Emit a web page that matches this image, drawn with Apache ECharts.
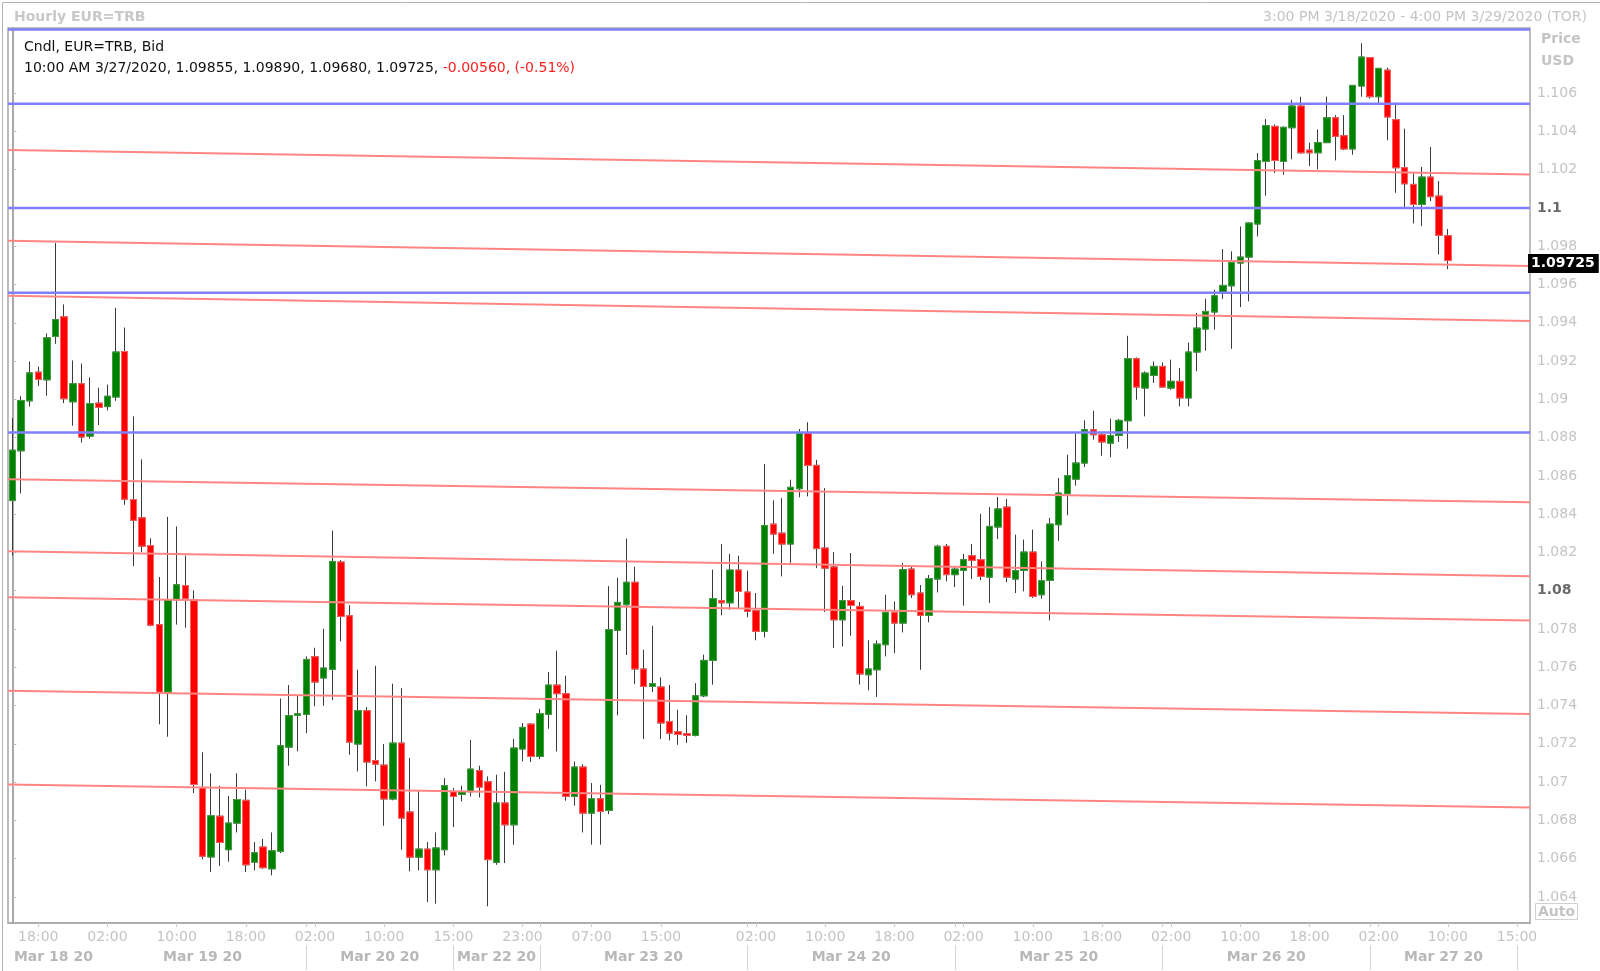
<!DOCTYPE html>
<html><head><meta charset="utf-8">
<script src="https://cdn.jsdelivr.net/npm/echarts@6/dist/echarts.min.js"></script>
<style>html,body{margin:0;padding:0;background:#fff;overflow:hidden}#c{width:1600px;height:971px}</style>
</head><body><div id="c"></div>
<script>
// trading sessions: [date key, date label, first hour, last hour]
const sessions = [
  ['03/18','Mar 18 20',15,23],
  ['03/19','Mar 19 20',0,23],
  ['03/20','Mar 20 20',0,17],
  ['03/22','Mar 22 20',15,23],
  ['03/23','Mar 23 20',0,23],
  ['03/24','Mar 24 20',0,23],
  ['03/25','Mar 25 20',0,23],
  ['03/26','Mar 26 20',0,23],
  ['03/27','Mar 27 20',0,17],
  ['03/29','',15,16]
];
const hourTicks = ['03/18 18:00','03/19 02:00','03/19 10:00','03/19 18:00','03/20 02:00','03/20 10:00',
  '03/22 15:00','03/22 23:00','03/23 07:00','03/23 15:00','03/24 02:00','03/24 10:00','03/24 18:00',
  '03/25 02:00','03/25 10:00','03/25 18:00','03/26 02:00','03/26 10:00','03/26 18:00','03/27 02:00',
  '03/27 10:00','03/29 15:00'];

const opens = [1.08471,1.08731,1.08992,1.09142,1.09102,1.09328,1.09431,1.08987,1.09081,1.08808,
1.08980,1.08962,1.09012,1.09250,1.08476,1.08381,1.08236,1.07823,1.07470,1.07953,
1.08027,1.07953,1.06970,1.06609,1.06822,1.06647,1.06786,1.06905,1.06582,1.06661,
1.06547,1.06638,1.07183,1.07349,1.07354,1.07655,1.07544,1.07589,1.08150,1.07869,
1.07199,1.07373,1.07113,1.07089,1.06912,1.07204,1.06844,1.06608,1.06650,1.06542,
1.06647,1.06950,1.06936,1.06950,1.07060,1.07002,1.06581,1.06891,1.06777,1.07173,
1.07303,1.07134,1.07354,1.07507,1.07462,1.06926,1.07079,1.06838,1.06913,1.06852,
1.07793,1.07927,1.08044,1.07591,1.07500,1.07497,1.07317,1.07263,1.07253,1.07244,
1.07451,1.07636,1.07948,1.07937,1.08108,1.07993,1.07896,1.07788,1.08348,1.08301,
1.08244,1.08533,1.08824,1.08655,1.08223,1.08124,1.07848,1.07948,1.07918,1.07561,
1.07587,1.07718,1.07887,1.07831,1.08113,1.07988,1.07871,1.08061,1.08232,1.08084,
1.08106,1.08183,1.08162,1.08071,1.08333,1.08437,1.08061,1.08106,1.08202,1.07979,
1.08054,1.08345,1.08507,1.08583,1.08667,1.08841,1.08815,1.08771,1.08812,1.08888,
1.09212,1.09059,1.09125,1.09172,1.09059,1.09094,1.09007,1.09247,1.09367,1.09456,
1.09560,1.09593,1.09712,1.09743,1.09916,1.10243,1.10426,1.10243,1.10419,1.10532,
1.10302,1.10288,1.10341,1.10471,1.10377,1.10308,1.10637,1.10785,1.10581,1.10720,
1.10461,1.10210,1.10123,1.10018,1.10161,1.10062,1.09855];
const closes = [1.08734,1.08994,1.09138,1.09104,1.09321,1.09416,1.09003,1.09081,1.08803,1.08978,
1.08958,1.09016,1.09247,1.08478,1.08368,1.08233,1.07820,1.07470,1.07953,1.08031,
1.07959,1.06988,1.06613,1.06824,1.06685,1.06786,1.06909,1.06568,1.06631,1.06553,
1.06641,1.07190,1.07347,1.07357,1.07641,1.07523,1.07596,1.08153,1.07866,1.07209,
1.07373,1.07105,1.07094,1.06912,1.07204,1.06812,1.06608,1.06650,1.06542,1.06656,
1.06981,1.06925,1.06950,1.07068,1.06974,1.06595,1.06891,1.06777,1.07178,1.07286,
1.07134,1.07357,1.07507,1.07462,1.06926,1.07079,1.06838,1.06913,1.06847,1.07796,
1.07939,1.08044,1.07591,1.07500,1.07514,1.07309,1.07256,1.07249,1.07244,1.07451,
1.07636,1.07958,1.07937,1.08108,1.07996,1.07892,1.07788,1.08341,1.08296,1.08244,
1.08540,1.08824,1.08655,1.08220,1.08118,1.07848,1.07948,1.07923,1.07565,1.07591,
1.07721,1.07887,1.07831,1.08110,1.07979,1.07871,1.08063,1.08232,1.08084,1.08113,
1.08162,1.08159,1.08075,1.08336,1.08427,1.08071,1.08105,1.08202,1.07970,1.08052,
1.08348,1.08510,1.08601,1.08667,1.08841,1.08815,1.08777,1.08810,1.08890,1.09212,
1.09064,1.09137,1.09172,1.09064,1.09094,1.09007,1.09247,1.09372,1.09459,1.09541,
1.09595,1.09715,1.09743,1.09921,1.10247,1.10430,1.10248,1.10421,1.10532,1.10288,
1.10288,1.10341,1.10471,1.10374,1.10308,1.10640,1.10788,1.10581,1.10729,1.10475,
1.10210,1.10126,1.10018,1.10161,1.10059,1.09857,1.09725];
const lows = [1.08184,1.08509,1.08962,1.09070,1.09019,1.09290,1.08980,1.08862,1.08774,1.08794,
1.08866,1.08942,1.08992,1.08449,1.08128,1.08202,1.07814,1.07302,1.07237,1.07823,
1.07807,1.06943,1.06597,1.06530,1.06562,1.06584,1.06737,1.06530,1.06539,1.06547,
1.06513,1.06629,1.07086,1.07161,1.07256,1.07396,1.07399,1.07429,1.07735,1.07143,
1.07056,1.06978,1.07004,1.06772,1.06905,1.06647,1.06534,1.06539,1.06373,1.06365,
1.06617,1.06765,1.06899,1.06925,1.06920,1.06351,1.06568,1.06577,1.06673,1.07108,
1.07105,1.07120,1.07279,1.07160,1.06903,1.06877,1.06737,1.06673,1.06673,1.06833,
1.07349,1.07664,1.07512,1.07225,1.07471,1.07225,1.07218,1.07195,1.07204,1.07239,
1.07444,1.07509,1.07871,1.07901,1.07904,1.07861,1.07741,1.07756,1.08193,1.08075,
1.08145,1.08488,1.08493,1.08118,1.07889,1.07701,1.07709,1.07765,1.07510,1.07480,
1.07445,1.07657,1.07674,1.07782,1.07962,1.07587,1.07835,1.07991,1.08049,1.08019,
1.07922,1.08061,1.08054,1.07936,1.08270,1.08045,1.07988,1.07997,1.07962,1.07958,
1.07845,1.08261,1.08394,1.08549,1.08646,1.08789,1.08705,1.08697,1.08777,1.08742,
1.08998,1.08911,1.09085,1.09062,1.09050,1.08963,1.08963,1.09146,1.09254,1.09364,
1.09524,1.09264,1.09482,1.09512,1.09851,1.10064,1.10182,1.10173,1.10254,1.10283,
1.10219,1.10201,1.10341,1.10248,1.10302,1.10278,1.10581,1.10571,1.10545,1.10353,
1.10079,1.10001,1.09919,1.09905,1.10036,1.09757,1.09680];
const highs = [1.08902,1.09016,1.09198,1.09171,1.09344,1.09817,1.09496,1.09203,1.09187,1.09115,
1.09061,1.09077,1.09478,1.09375,1.08911,1.08686,1.08274,1.08072,1.08386,1.08336,
1.08184,1.08002,1.07156,1.07046,1.06981,1.06927,1.07046,1.06961,1.06687,1.06703,
1.06737,1.07437,1.07507,1.07451,1.07657,1.07702,1.07802,1.08314,1.08160,1.07925,
1.07587,1.07392,1.07608,1.07199,1.07514,1.07491,1.07126,1.06955,1.06687,1.06737,
1.07021,1.06969,1.06981,1.07221,1.07086,1.07030,1.07039,1.07054,1.07225,1.07309,
1.07309,1.07383,1.07575,1.07686,1.07556,1.07108,1.07094,1.06995,1.06986,1.08024,
1.08068,1.08273,1.08125,1.07692,1.07817,1.07547,1.07507,1.07378,1.07349,1.07517,
1.07666,1.08110,1.08244,1.08193,1.08183,1.08104,1.07988,1.08662,1.08472,1.08484,
1.08580,1.08845,1.08880,1.08684,1.08536,1.08202,1.08026,1.08197,1.07941,1.07741,
1.07741,1.07979,1.07944,1.08145,1.08127,1.08030,1.08082,1.08240,1.08244,1.08127,
1.08193,1.08244,1.08402,1.08437,1.08490,1.08479,1.08293,1.08267,1.08319,1.08153,
1.08380,1.08589,1.08711,1.08824,1.08890,1.08940,1.08824,1.08899,1.08897,1.09332,
1.09219,1.09146,1.09198,1.09193,1.09207,1.09163,1.09297,1.09451,1.09526,1.09573,
1.09785,1.09773,1.09903,1.09924,1.10287,1.10464,1.10435,1.10426,1.10565,1.10581,
1.10341,1.10410,1.10581,1.10485,1.10485,1.10640,1.10860,1.10785,1.10729,1.10733,
1.10550,1.10414,1.10180,1.10214,1.10318,1.10140,1.09890];

const yTicks = [1.064,1.066,1.068,1.070,1.072,1.074,1.076,1.078,1.080,1.082,1.084,1.086,
  1.088,1.090,1.092,1.094,1.096,1.098,1.100,1.102,1.104,1.106];
const boldTicks = [1.08, 1.1];
const blueLevels = [1.10932, 1.10544, 1.10000, 1.09557, 1.08827];
const redLines = [ // [price at left edge, price at right edge]
  [1.10303,1.10175],[1.09829,1.09696],[1.09541,1.09409],[1.08583,1.08462],
  [1.08206,1.08076],[1.07966,1.07845],[1.07477,1.07356],[1.06988,1.06867]
];
const lastBarTime = '10:00 AM 3/27/2020';
const changeText = '-0.00560, (-0.51%)';
const titleLeft = 'Hourly EUR=TRB';
const titleRight = '3:00 PM 3/18/2020 - 4:00 PM 3/29/2020 (TOR)';

// ---- build categories and day dividers ----
const pad = n => (n < 10 ? '0' : '') + n;
const categories = [];
const dayDividers = [];
sessions.forEach((s, k) => {
  let div = null;
  for (let h = s[2]; h <= s[3]; h++) {
    if (div === null && h >= 1) div = categories.length;
    categories.push(s[0] + ' ' + pad(h) + ':00');
  }
  dayDividers.push(k === 0 ? -0.5 : div);
});
const N = categories.length;
const dayCenters = [], dayLabelMap = {};
sessions.forEach((s, k) => {
  if (!s[1]) return;
  const end = k + 1 < dayDividers.length ? dayDividers[k + 1] : N - 0.5;
  const c = (dayDividers[k] + end) / 2;
  dayCenters.push(c);
  dayLabelMap[c.toFixed(2)] = s[1];
});
const shownDividers = dayDividers.slice(2);
const tickSet = new Set(hourTicks);

const wickData = opens.map((o, i) => [o, closes[i], lows[i], highs[i]]);
const bodyData = opens.map((o, i) => [o, closes[i], Math.min(o, closes[i]), Math.max(o, closes[i])]);

const FONT = 'DejaVu Sans';
const xMin = -0.5, xMax = N - 0.5;

const lineSeries = [];
redLines.forEach(r => lineSeries.push({
  type: 'line', xAxisIndex: 1, yAxisIndex: 0, symbol: 'none', silent: true, z: 5,
  data: [[xMin, r[0]], [xMax, r[1]]],
  lineStyle: {color: '#ff8585', width: 2}
}));
blueLevels.forEach(b => lineSeries.push({
  type: 'line', xAxisIndex: 1, yAxisIndex: 0, symbol: 'none', silent: true, z: 6,
  data: [[xMin, b], [xMax, b]],
  lineStyle: {color: '#7f7fff', width: 2.5}
}));

const last = opens.length - 1;
const f5 = v => v.toFixed(5);
const headerLine = `${lastBarTime}, ${f5(opens[last])}, ${f5(highs[last])}, ${f5(lows[last])}, ${f5(closes[last])}, `;

// last price tag (label at the end of an invisible line at the last close)
lineSeries.push({
  type: 'line', xAxisIndex: 1, yAxisIndex: 0, symbol: 'none', silent: true, z: 30,
  data: [[xMin, closes[last]], [xMax, closes[last]]],
  lineStyle: {width: 0, color: 'rgba(0,0,0,0)'},
  endLabel: {show: true, distance: 0, offset: [-2, 3], formatter: () => f5(closes[last]),
    backgroundColor: '#000000', color: '#ffffff', fontWeight: 'bold', fontSize: 14, fontFamily: FONT,
    padding: [3, 4, 2, 3]}
});

const chart = echarts.init(document.getElementById('c'), null, {renderer: 'canvas'});
chart.setOption({
  animation: false,
  backgroundColor: '#ffffff',
  textStyle: {fontFamily: FONT},
  grid: {left: 8, right: 70, top: 28, bottom: 48, show: true, borderColor: '#a8a8a8', borderWidth: 1.5, backgroundColor: '#ffffff'},
  title: [
    {text: titleLeft, left: 9, top: 5, textStyle: {fontFamily: FONT, fontSize: 14, fontWeight: 'bold', color: '#c8c8c8'}},
    {text: titleRight, right: 8, top: 5, textStyle: {fontFamily: FONT, fontSize: 14, fontWeight: 'normal', color: '#c4c4c4'}},
    {text: '{k|Cndl, EUR=TRB, Bid}\n{k|' + headerLine + '}{r|' + changeText + '}', left: 19, top: 32,
     textStyle: {fontWeight: 'normal', rich: {
       k: {fontFamily: FONT, fontSize: 14, fontWeight: 'normal', color: '#111111', lineHeight: 21},
       r: {fontFamily: FONT, fontSize: 14, fontWeight: 'normal', color: '#ff2020', lineHeight: 21}}}},
    {text: 'Price\nUSD', left: 1536, top: 23, textStyle: {fontFamily: FONT, fontSize: 14, fontWeight: 'bold', color: '#c4c4c4', lineHeight: 22}},
    {text: 'Auto', left: 1535, top: 903, padding: [2, 3, 1, 3], borderColor: '#d0d0d0', borderWidth: 1,
     textStyle: {fontFamily: FONT, fontSize: 14, fontWeight: 'bold', color: '#c4c4c4'}}
  ],
  graphic: [{type: 'rect', left: 0, top: 0, silent: true, z: 100,
    shape: {x: 0, y: 0, width: 1599, height: 970},
    style: {fill: 'none', stroke: '#b4b4b4', lineWidth: 1}}],
  xAxis: [
    {type: 'category', data: categories, boundaryGap: true, position: 'bottom',
     axisLine: {show: true, lineStyle: {color: '#a8a8a8', width: 1.5}},
     axisTick: {show: true, alignWithLabel: true, length: 4, interval: (i, v) => tickSet.has(v), lineStyle: {color: '#cccccc'}},
     axisLabel: {interval: (i, v) => tickSet.has(v), formatter: v => v.split(' ')[1], color: '#c4c4c4', fontSize: 14, fontFamily: FONT, margin: 7},
     splitLine: {show: false}},
    {type: 'value', min: xMin, max: xMax, position: 'bottom',
     axisLine: {show: false}, splitLine: {show: false},
     axisTick: {show: true, customValues: shownDividers, length: 4, lineStyle: {color: '#cccccc'}},
     axisLabel: {show: false}},
    {type: 'value', min: xMin, max: xMax, position: 'bottom', offset: 22,
     axisLine: {show: false}, splitLine: {show: false},
     axisTick: {show: true, customValues: shownDividers, length: 25, lineStyle: {color: '#d4d4d4'}},
     axisLabel: {show: true, customValues: dayCenters, formatter: v => dayLabelMap[(+v).toFixed(2)] || '',
       color: '#b8b8b8', fontWeight: 'bold', fontSize: 14, fontFamily: FONT, margin: 5}}
  ],
  yAxis: [{
    type: 'value', position: 'right', min: 1.06264, max: 1.1094, scale: true,
    axisLine: {show: true, lineStyle: {color: '#a8a8a8', width: 2}},
    axisTick: {show: true, customValues: yTicks, length: 4, lineStyle: {color: '#b8b8b8'}},
    axisLabel: {customValues: yTicks, margin: 7, color: '#c4c4c4', fontSize: 14, fontFamily: FONT,
      formatter: v => { const n = +(+v).toFixed(3); const s = String(n); return boldTicks.indexOf(n) >= 0 ? '{b|' + s + '}' : s; },
      rich: {b: {fontWeight: 'bold', color: '#6a6a6a', fontSize: 14, fontFamily: FONT}}},
    splitLine: {show: false}
  }],
  series: [
    {type: 'candlestick', name: 'wick', xAxisIndex: 0, yAxisIndex: 0, data: wickData, barWidth: 7, z: 2, silent: true,
     itemStyle: {color: 'rgba(0,0,0,0)', color0: 'rgba(0,0,0,0)', borderColor: '#3a3a3a', borderColor0: '#3a3a3a', borderWidth: 1}},
    {type: 'candlestick', name: 'body', xAxisIndex: 0, yAxisIndex: 0, data: bodyData, barWidth: 7, z: 3, silent: true,
     itemStyle: {color: '#008000', color0: '#ff0000', borderColor: '#3f9f3f', borderColor0: '#ff6060', borderWidth: 1}}
  ].concat(lineSeries)
});
</script>
</body></html>
